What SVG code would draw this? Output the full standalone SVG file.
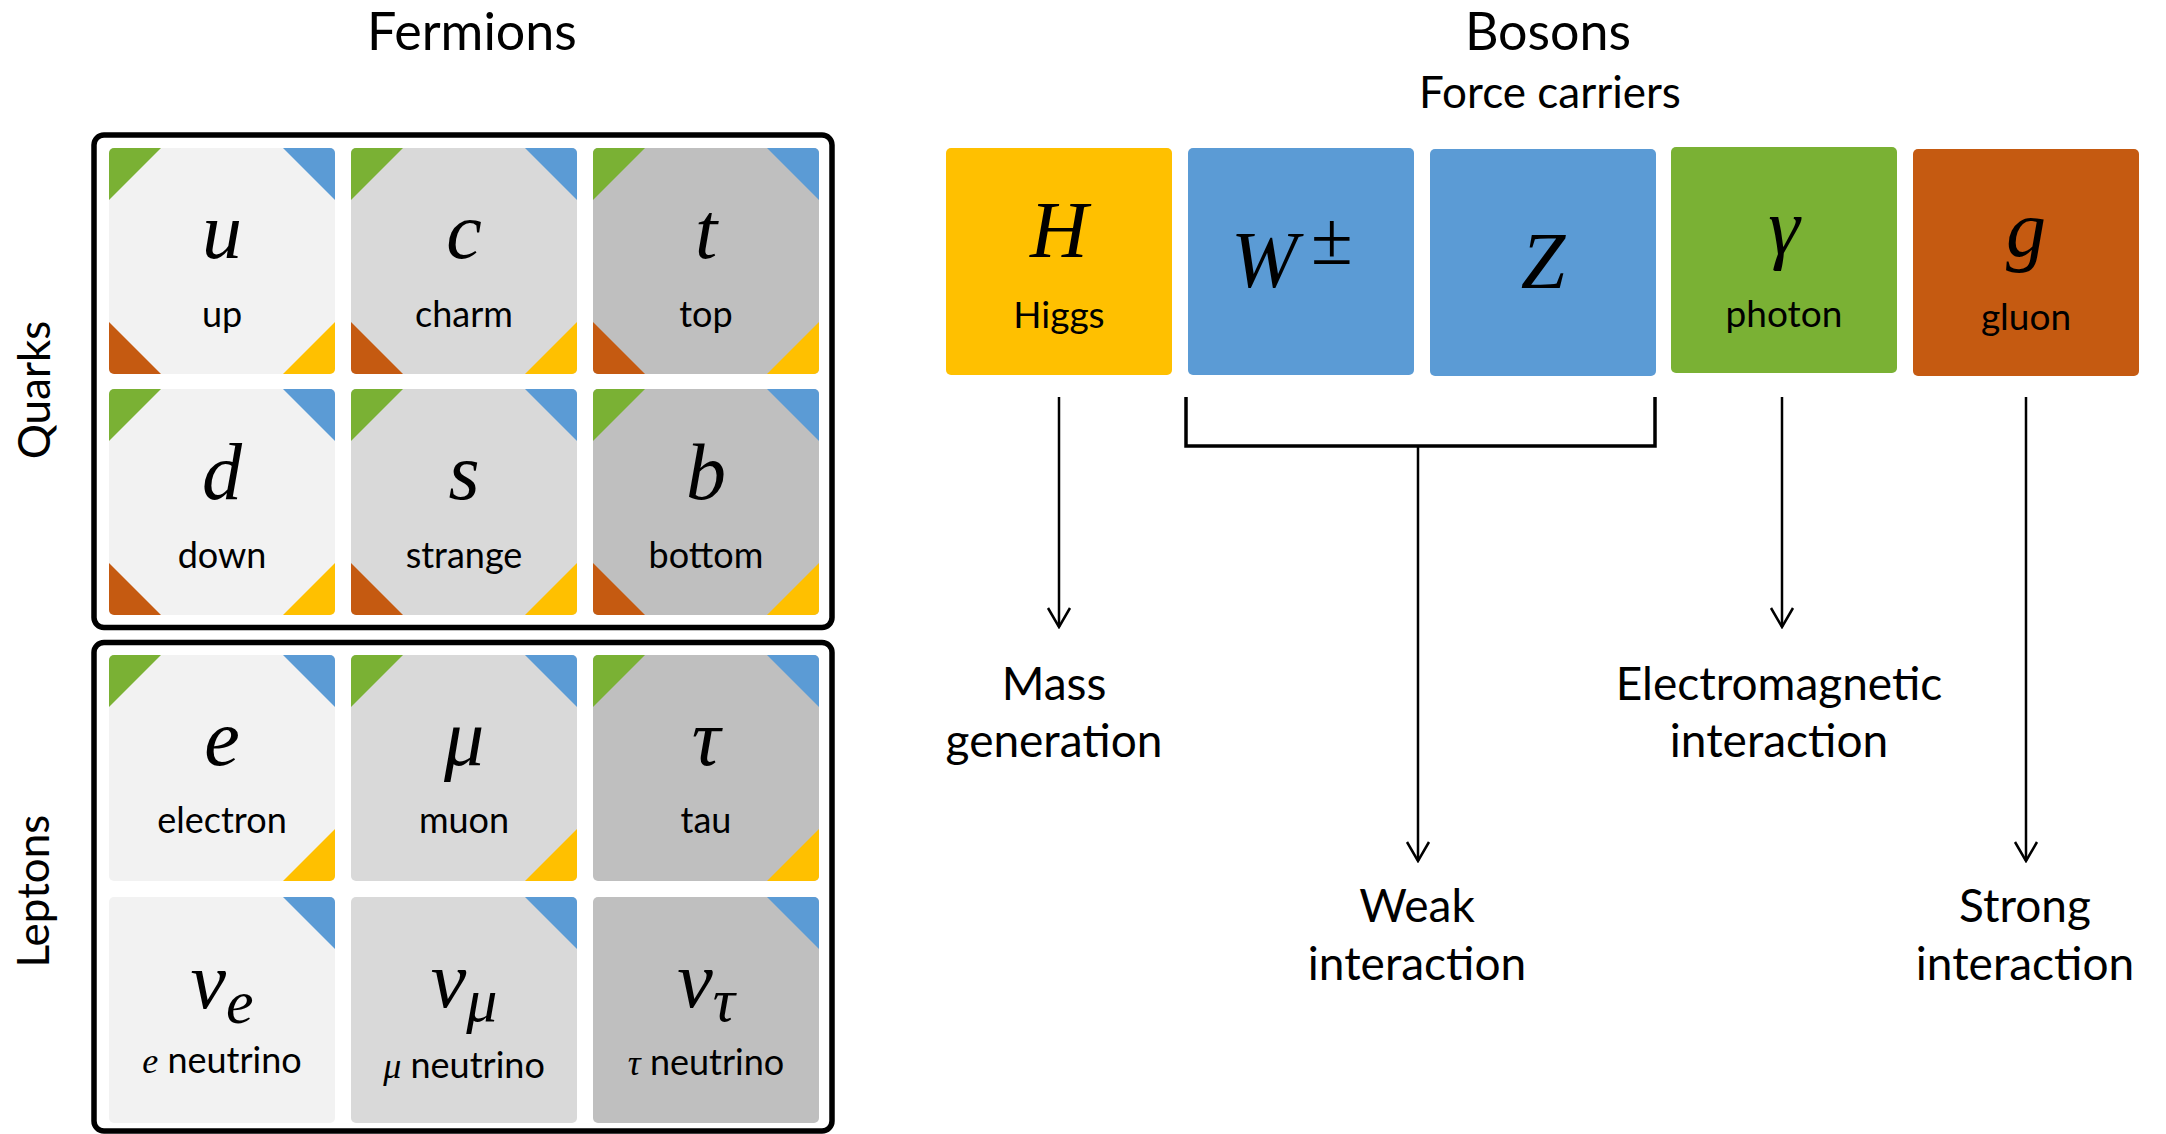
<svg xmlns="http://www.w3.org/2000/svg" width="2166" height="1134" viewBox="0 0 2166 1134">
<style>
.sans{font-family:Lato,"Open Sans","Liberation Sans",sans-serif;fill:#000}
.math{font-family:"Liberation Serif","DejaVu Serif",serif;font-style:italic;fill:#000}
.up{font-family:"Liberation Serif","DejaVu Serif",serif;font-style:normal;fill:#000}
.title{font-size:52px}
.lab{font-size:36px}
.blab{font-size:37px}
.alab{font-size:46px}
.sym{font-size:80px}
.frame{fill:none;stroke:#000;stroke-width:5.5}
.c1{fill:#F2F2F2}.c2{fill:#D9D9D9}.c3{fill:#BFBFBF}
.g{fill:#7AB134}.b{fill:#5B9BD5}.o{fill:#C55A11}.y{fill:#FFC000}
.ln{fill:none;stroke:#000;stroke-width:2.5}
.br{fill:none;stroke:#000;stroke-width:3.5}
</style>
<defs>
<clipPath id="cc" clipPathUnits="userSpaceOnUse"><rect x="0" y="0" width="226" height="226" rx="5"/></clipPath>
<marker id="ah" markerUnits="userSpaceOnUse" viewBox="-22 -13 24 26" markerWidth="24" markerHeight="26" refX="0" refY="0" orient="auto">
<path d="M-19,-11 L0,0 L-19,11" fill="none" stroke="#000" stroke-width="2.5"/>
</marker>
<g id="tl"><path class="g" d="M0,0 H52 L0,52 Z"/></g>
<g id="tr"><path class="b" d="M226,0 H174 L226,52 Z"/></g>
<g id="bl"><path class="o" d="M0,226 H52 L0,174 Z"/></g>
<g id="brc"><path class="y" d="M226,226 H174 L226,174 Z"/></g>
</defs>
<rect width="2166" height="1134" fill="#fff"/>

<text class="sans title" x="472" y="50" text-anchor="middle">Fermions</text>
<text class="sans title" x="1548" y="50" text-anchor="middle">Bosons</text>
<text class="sans" x="1550" y="108" text-anchor="middle" font-size="44">Force carriers</text>
<text class="sans" font-size="44" text-anchor="middle" transform="translate(50,390) rotate(-90)">Quarks</text>
<text class="sans" font-size="44" text-anchor="middle" transform="translate(49,891) rotate(-90)">Leptons</text>

<g id="quarks-frame"><rect class="frame" x="94" y="135" width="738" height="492.5" rx="10"/></g>
<g id="leptons-frame"><rect class="frame" x="94" y="642.5" width="738" height="488.5" rx="10"/></g>

<g id="up" transform="translate(109,148)"><g clip-path="url(#cc)"><rect class="c1" width="226" height="226"/><use href="#tl"/><use href="#tr"/><use href="#bl"/><use href="#brc"/></g>
<text class="math sym" x="113" y="110" text-anchor="middle">u</text><text class="sans lab" x="113" y="179" text-anchor="middle">up</text></g>
<g id="charm" transform="translate(351,148)"><g clip-path="url(#cc)"><rect class="c2" width="226" height="226"/><use href="#tl"/><use href="#tr"/><use href="#bl"/><use href="#brc"/></g>
<text class="math sym" x="113" y="110" text-anchor="middle">c</text><text class="sans lab" x="113" y="179" text-anchor="middle">charm</text></g>
<g id="top" transform="translate(593,148)"><g clip-path="url(#cc)"><rect class="c3" width="226" height="226"/><use href="#tl"/><use href="#tr"/><use href="#bl"/><use href="#brc"/></g>
<text class="math sym" x="113" y="110" text-anchor="middle">t</text><text class="sans lab" x="113" y="179" text-anchor="middle">top</text></g>

<g id="down" transform="translate(109,389)"><g clip-path="url(#cc)"><rect class="c1" width="226" height="226"/><use href="#tl"/><use href="#tr"/><use href="#bl"/><use href="#brc"/></g>
<text class="math sym" x="113" y="110" text-anchor="middle">d</text><text class="sans lab" x="113" y="179" text-anchor="middle">down</text></g>
<g id="strange" transform="translate(351,389)"><g clip-path="url(#cc)"><rect class="c2" width="226" height="226"/><use href="#tl"/><use href="#tr"/><use href="#bl"/><use href="#brc"/></g>
<text class="math sym" x="113" y="110" text-anchor="middle">s</text><text class="sans lab" x="113" y="179" text-anchor="middle">strange</text></g>
<g id="bottom" transform="translate(593,389)"><g clip-path="url(#cc)"><rect class="c3" width="226" height="226"/><use href="#tl"/><use href="#tr"/><use href="#bl"/><use href="#brc"/></g>
<text class="math sym" x="113" y="110" text-anchor="middle">b</text><text class="sans lab" x="113" y="179" text-anchor="middle">bottom</text></g>

<g id="electron" transform="translate(109,655)"><g clip-path="url(#cc)"><rect class="c1" width="226" height="226"/><use href="#tl"/><use href="#tr"/><use href="#brc"/></g>
<text class="math sym" x="113" y="110" text-anchor="middle">e</text><text class="sans lab" x="113" y="178" text-anchor="middle">electron</text></g>
<g id="muon" transform="translate(351,655)"><g clip-path="url(#cc)"><rect class="c2" width="226" height="226"/><use href="#tl"/><use href="#tr"/><use href="#brc"/></g>
<text class="math sym" x="113" y="110" text-anchor="middle">μ</text><text class="sans lab" x="113" y="178" text-anchor="middle">muon</text></g>
<g id="tau" transform="translate(593,655)"><g clip-path="url(#cc)"><rect class="c3" width="226" height="226"/><use href="#tl"/><use href="#tr"/><use href="#brc"/></g>
<text class="math sym" x="113" y="110" text-anchor="middle">τ</text><text class="sans lab" x="113" y="178" text-anchor="middle">tau</text></g>

<g id="e-neutrino" transform="translate(109,897)"><g clip-path="url(#cc)"><rect class="c1" width="226" height="226"/><use href="#tr"/></g>
<text class="math sym" x="113" y="111" text-anchor="middle">ν<tspan font-size="62" dy="15">e</tspan></text><text class="sans lab" x="113" y="176" text-anchor="middle"><tspan class="math">e</tspan> neutrino</text></g>
<g id="mu-neutrino" transform="translate(351,897)"><g clip-path="url(#cc)"><rect class="c2" width="226" height="226"/><use href="#tr"/></g>
<text class="math sym" x="113" y="110" text-anchor="middle">ν<tspan font-size="62" dy="14">μ</tspan></text><text class="sans lab" x="113" y="181" text-anchor="middle"><tspan class="math">μ</tspan> neutrino</text></g>
<g id="tau-neutrino" transform="translate(593,897)"><g clip-path="url(#cc)"><rect class="c3" width="226" height="226"/><use href="#tr"/></g>
<text class="math sym" x="113" y="110" text-anchor="middle">ν<tspan font-size="62" dy="14">τ</tspan></text><text class="sans lab" x="113" y="178" text-anchor="middle"><tspan class="math">τ</tspan> neutrino</text></g>

<g id="higgs"><rect class="y" x="946" y="148" width="226" height="227" rx="5"/>
<text class="math sym" x="1059" y="257" text-anchor="middle">H</text><text class="sans blab" x="1059" y="328" text-anchor="middle">Higgs</text></g>
<g id="w-boson"><rect class="b" x="1188" y="148" width="226" height="227" rx="5"/>
<text class="math sym" x="1231" y="287">W</text><text class="up" font-size="76" x="1311" y="264">±</text></g>
<g id="z-boson"><rect class="b" x="1430" y="149" width="226" height="227" rx="5"/>
<text class="math sym" x="1543" y="288" text-anchor="middle">Z</text></g>
<g id="photon"><rect class="g" x="1671" y="147" width="226" height="226" rx="5"/>
<text class="math sym" x="1784" y="254" text-anchor="middle">γ</text><text class="sans blab" x="1784" y="327" text-anchor="middle">photon</text></g>
<g id="gluon"><rect class="o" x="1913" y="149" width="226" height="227" rx="5"/>
<text class="math sym" x="2026" y="256" text-anchor="middle">g</text><text class="sans blab" x="2026" y="330" text-anchor="middle">gluon</text></g>

<g id="connectors">
<path class="ln" d="M1059,397 V627" marker-end="url(#ah)"/>
<path class="br" d="M1186,397 V446 H1655 V397"/>
<path class="ln" d="M1418,446 V861" marker-end="url(#ah)"/>
<path class="ln" d="M1782,397 V627" marker-end="url(#ah)"/>
<path class="ln" d="M2026,397 V861" marker-end="url(#ah)"/>
</g>

<g id="labels">
<text class="sans alab" text-anchor="middle"><tspan x="1054" y="700">Mass</tspan><tspan x="1054" y="757">generation</tspan></text>
<text class="sans alab" text-anchor="middle"><tspan x="1417" y="922">Weak</tspan><tspan x="1417" y="980">interaction</tspan></text>
<text class="sans alab" text-anchor="middle"><tspan x="1779" y="700">Electromagnetic</tspan><tspan x="1779" y="757">interaction</tspan></text>
<text class="sans alab" text-anchor="middle"><tspan x="2025" y="922">Strong</tspan><tspan x="2025" y="980">interaction</tspan></text>
</g>
</svg>
